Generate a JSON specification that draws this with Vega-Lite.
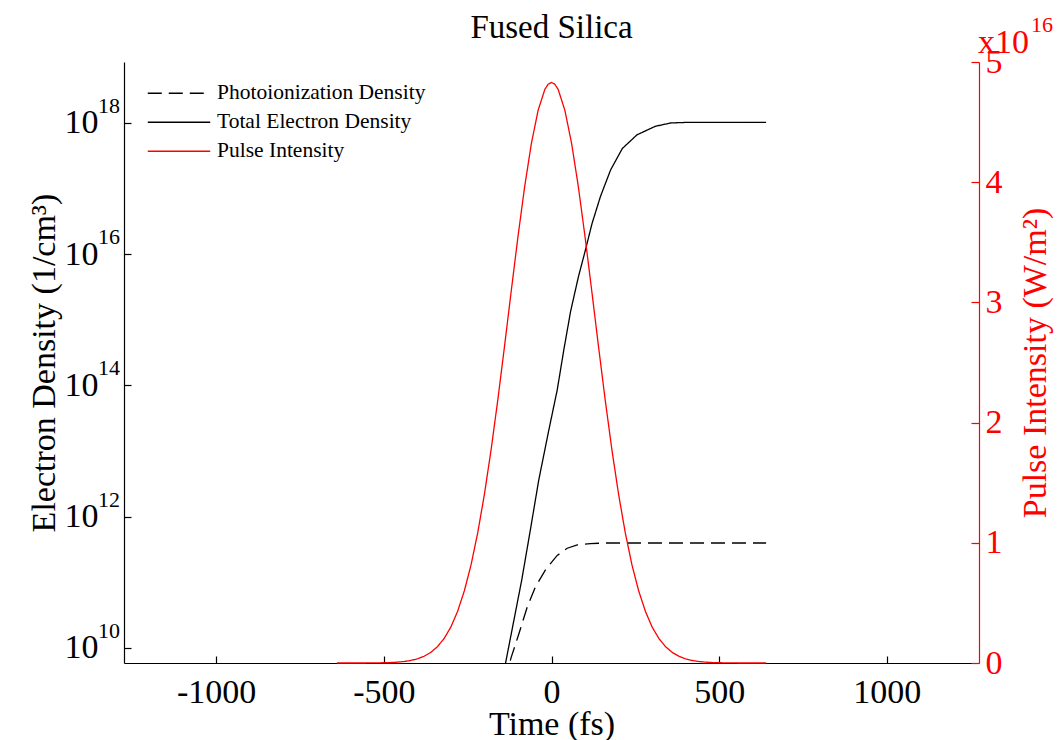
{
  "$schema": "https://vega.github.io/schema/vega-lite/v6.json",
  "width": 855,
  "height": 601,
  "autosize": {"type": "none"},
  "padding": {"left": 124, "top": 62, "right": 82, "bottom": 77},
  "background": "white",
  "config": {
    "font": "Liberation Serif",
    "view": {"stroke": null},
    "axis": {
      "grid": false,
      "labelFont": "Liberation Serif",
      "titleFont": "Liberation Serif",
      "labelColor": "black",
      "titleColor": "black",
      "domainColor": "black",
      "tickColor": "black",
      "titleFontWeight": "normal",
      "labelFontSize": 34,
      "titleFontSize": 34,
      "domainWidth": 1.2,
      "tickWidth": 1.2
    }
  },
  "title": {
    "text": "Fused Silica",
    "font": "Liberation Serif",
    "fontSize": 33,
    "fontWeight": "normal",
    "color": "black",
    "anchor": "middle",
    "frame": "group",
    "offset": -31
  },
  "datasets": {
    "density": [
      {"series": "Total Electron Density", "t": -160, "n": 1.45e9},
      {"series": "Total Electron Density", "t": -137, "n": 5.89e9},
      {"series": "Total Electron Density", "t": -113, "n": 2.51e10},
      {"series": "Total Electron Density", "t": -89, "n": 1.07e11},
      {"series": "Total Electron Density", "t": -63, "n": 6.31e11},
      {"series": "Total Electron Density", "t": -38, "n": 3.63e12},
      {"series": "Total Electron Density", "t": -8, "n": 2.09e13},
      {"series": "Total Electron Density", "t": 17, "n": 8.51e13},
      {"series": "Total Electron Density", "t": 37, "n": 3.55e14},
      {"series": "Total Electron Density", "t": 57, "n": 1.35e15},
      {"series": "Total Electron Density", "t": 80, "n": 4.47e15},
      {"series": "Total Electron Density", "t": 101, "n": 1.15e16},
      {"series": "Total Electron Density", "t": 121, "n": 2.95e16},
      {"series": "Total Electron Density", "t": 146, "n": 7.59e16},
      {"series": "Total Electron Density", "t": 176, "n": 1.91e17},
      {"series": "Total Electron Density", "t": 211, "n": 4.07e17},
      {"series": "Total Electron Density", "t": 255, "n": 6.61e17},
      {"series": "Total Electron Density", "t": 310, "n": 8.91e17},
      {"series": "Total Electron Density", "t": 355, "n": 1.0e18},
      {"series": "Total Electron Density", "t": 400, "n": 1.02e18},
      {"series": "Total Electron Density", "t": 640, "n": 1.02e18},
      {"series": "Photoionization Density", "t": -140, "n": 3.16e9},
      {"series": "Photoionization Density", "t": -120, "n": 7.24e9},
      {"series": "Photoionization Density", "t": -97, "n": 1.66e10},
      {"series": "Photoionization Density", "t": -72, "n": 4.27e10},
      {"series": "Photoionization Density", "t": -48, "n": 8.51e10},
      {"series": "Photoionization Density", "t": -18, "n": 1.55e11},
      {"series": "Photoionization Density", "t": 17, "n": 2.57e11},
      {"series": "Photoionization Density", "t": 47, "n": 3.31e11},
      {"series": "Photoionization Density", "t": 77, "n": 3.72e11},
      {"series": "Photoionization Density", "t": 116, "n": 3.89e11},
      {"series": "Photoionization Density", "t": 160, "n": 3.98e11},
      {"series": "Photoionization Density", "t": 640, "n": 3.98e11}
    ],
    "exponents": [
      {"t": -1275, "n": 1e10, "e": "10"},
      {"t": -1275, "n": 1e12, "e": "12"},
      {"t": -1275, "n": 1e14, "e": "14"},
      {"t": -1275, "n": 1e16, "e": "16"},
      {"t": -1275, "n": 1e18, "e": "18"}
    ],
    "pulse": [
      {"series": "Pulse Intensity", "t": -640, "I": 0},
      {"series": "Pulse Intensity", "t": -580, "I": 0},
      {"series": "Pulse Intensity", "t": -540, "I": 3e12},
      {"series": "Pulse Intensity", "t": -500, "I": 2.2e13},
      {"series": "Pulse Intensity", "t": -480, "I": 3.9e13},
      {"series": "Pulse Intensity", "t": -460, "I": 7.0e13},
      {"series": "Pulse Intensity", "t": -440, "I": 1.23e14},
      {"series": "Pulse Intensity", "t": -420, "I": 2.09e14},
      {"series": "Pulse Intensity", "t": -400, "I": 3.46e14},
      {"series": "Pulse Intensity", "t": -380, "I": 5.6e14},
      {"series": "Pulse Intensity", "t": -360, "I": 8.85e14},
      {"series": "Pulse Intensity", "t": -340, "I": 1.36e15},
      {"series": "Pulse Intensity", "t": -320, "I": 2.05e15},
      {"series": "Pulse Intensity", "t": -300, "I": 3.0e15},
      {"series": "Pulse Intensity", "t": -280, "I": 4.3e15},
      {"series": "Pulse Intensity", "t": -260, "I": 6.0e15},
      {"series": "Pulse Intensity", "t": -240, "I": 8.16e15},
      {"series": "Pulse Intensity", "t": -220, "I": 1.084e16},
      {"series": "Pulse Intensity", "t": -200, "I": 1.405e16},
      {"series": "Pulse Intensity", "t": -180, "I": 1.777e16},
      {"series": "Pulse Intensity", "t": -160, "I": 2.192e16},
      {"series": "Pulse Intensity", "t": -140, "I": 2.638e16},
      {"series": "Pulse Intensity", "t": -120, "I": 3.097e16},
      {"series": "Pulse Intensity", "t": -100, "I": 3.547e16},
      {"series": "Pulse Intensity", "t": -80, "I": 3.964e16},
      {"series": "Pulse Intensity", "t": -60, "I": 4.322e16},
      {"series": "Pulse Intensity", "t": -40, "I": 4.597e16},
      {"series": "Pulse Intensity", "t": -20, "I": 4.771e16},
      {"series": "Pulse Intensity", "t": -10, "I": 4.815e16},
      {"series": "Pulse Intensity", "t": 0, "I": 4.83e16},
      {"series": "Pulse Intensity", "t": 10, "I": 4.815e16},
      {"series": "Pulse Intensity", "t": 20, "I": 4.771e16},
      {"series": "Pulse Intensity", "t": 40, "I": 4.597e16},
      {"series": "Pulse Intensity", "t": 60, "I": 4.322e16},
      {"series": "Pulse Intensity", "t": 80, "I": 3.964e16},
      {"series": "Pulse Intensity", "t": 100, "I": 3.547e16},
      {"series": "Pulse Intensity", "t": 120, "I": 3.097e16},
      {"series": "Pulse Intensity", "t": 140, "I": 2.638e16},
      {"series": "Pulse Intensity", "t": 160, "I": 2.192e16},
      {"series": "Pulse Intensity", "t": 180, "I": 1.777e16},
      {"series": "Pulse Intensity", "t": 200, "I": 1.405e16},
      {"series": "Pulse Intensity", "t": 220, "I": 1.084e16},
      {"series": "Pulse Intensity", "t": 240, "I": 8.16e15},
      {"series": "Pulse Intensity", "t": 260, "I": 6.0e15},
      {"series": "Pulse Intensity", "t": 280, "I": 4.3e15},
      {"series": "Pulse Intensity", "t": 300, "I": 3.0e15},
      {"series": "Pulse Intensity", "t": 320, "I": 2.05e15},
      {"series": "Pulse Intensity", "t": 340, "I": 1.36e15},
      {"series": "Pulse Intensity", "t": 360, "I": 8.85e14},
      {"series": "Pulse Intensity", "t": 380, "I": 5.6e14},
      {"series": "Pulse Intensity", "t": 400, "I": 3.46e14},
      {"series": "Pulse Intensity", "t": 420, "I": 2.09e14},
      {"series": "Pulse Intensity", "t": 440, "I": 1.23e14},
      {"series": "Pulse Intensity", "t": 460, "I": 7.0e13},
      {"series": "Pulse Intensity", "t": 480, "I": 3.9e13},
      {"series": "Pulse Intensity", "t": 500, "I": 2.2e13},
      {"series": "Pulse Intensity", "t": 540, "I": 3e12},
      {"series": "Pulse Intensity", "t": 580, "I": 0},
      {"series": "Pulse Intensity", "t": 640, "I": 0}
    ],
    "note": [
      {"t": 1275, "I": 5e16, "base": "x10", "sup": "16"}
    ]
  },
  "encoding": {
    "x": {
      "field": "t",
      "type": "quantitative",
      "scale": {"domain": [-1275, 1275], "nice": false, "zero": false},
      "axis": {
        "title": "Time (fs)",
        "values": [-1000, -500, 0, 500, 1000],
        "labelExpr": "'' + datum.value",
        "tickSize": -7,
        "labelPadding": 19,
        "titlePadding": -2,
        "labelFlush": false,
        "labelOverlap": false
      }
    }
  },
  "layer": [
    {
      "encoding": {
        "y": {
          "field": "n",
          "type": "quantitative",
          "scale": {"type": "log", "domain": [5.9e9, 8.5e18], "nice": false},
          "axis": {
            "title": "Electron Density (1/cm³)",
            "values": [1e10, 1e12, 1e14, 1e16, 1e18],
            "labelExpr": "'10'",
            "tickSize": -7,
            "labelPadding": 33,
            "titlePadding": 3,
            "labelFlush": false,
            "labelOverlap": false
          }
        }
      },
      "layer": [
        {
          "data": {"name": "density"},
          "mark": {"type": "line", "clip": true, "strokeWidth": 1.3},
          "encoding": {
            "color": {
              "field": "series",
              "type": "nominal",
              "scale": {
                "domain": ["Photoionization Density", "Total Electron Density", "Pulse Intensity"],
                "range": ["black", "black", "red"]
              },
              "legend": {
                "title": null,
                "orient": "none",
                "legendX": 23,
                "legendY": 17,
                "symbolType": "stroke",
                "symbolSize": 3900,
                "symbolStrokeWidth": 1.3,
                "clipHeight": 28.5,
                "labelFont": "Liberation Serif",
                "labelFontSize": 21.5,
                "labelColor": "black",
                "labelOffset": 6,
                "rowPadding": 0,
                "labelLimit": 400
              }
            },
            "strokeDash": {
              "field": "series",
              "type": "nominal",
              "scale": {
                "domain": ["Photoionization Density", "Total Electron Density", "Pulse Intensity"],
                "range": [[14, 7], [1, 0], [1, 0]]
              },
              "legend": {
                "title": null,
                "orient": "none",
                "legendX": 23,
                "legendY": 17,
                "symbolType": "stroke",
                "symbolSize": 3900,
                "symbolStrokeWidth": 1.3,
                "clipHeight": 28.5,
                "labelFont": "Liberation Serif",
                "labelFontSize": 21.5,
                "labelColor": "black",
                "labelOffset": 6,
                "rowPadding": 0,
                "labelLimit": 400
              }
            }
          }
        },
        {
          "data": {"name": "exponents"},
          "mark": {"type": "text", "align": "right", "baseline": "alphabetic", "dx": -4, "dy": -10, "font": "Liberation Serif", "fontSize": 22, "color": "black"},
          "encoding": {
            "text": {"field": "e"}
          }
        }
      ]
    },
    {
      "encoding": {
        "y": {
          "field": "I",
          "type": "quantitative",
          "scale": {"domain": [0, 5e16], "nice": false},
          "axis": {
            "orient": "right",
            "title": "Pulse Intensity (W/m²)",
            "values": [0, 1e16, 2e16, 3e16, 4e16, 5e16],
            "labelExpr": "format(datum.value / 1e16, 'd')",
            "tickSize": -8,
            "labelPadding": 14,
            "titlePadding": 16,
            "titleAngle": 270,
            "titleBaseline": "top",
            "domainColor": "red",
            "tickColor": "red",
            "labelColor": "red",
            "titleColor": "red",
            "labelFlush": false,
            "labelOverlap": false
          }
        }
      },
      "layer": [
        {
          "data": {"name": "pulse"},
          "mark": {"type": "line", "strokeWidth": 1.3},
          "encoding": {
            "color": {"field": "series", "type": "nominal"},
            "strokeDash": {"field": "series", "type": "nominal"}
          }
        },
        {
          "data": {"name": "note"},
          "mark": {"type": "text", "align": "left", "baseline": "alphabetic", "dx": -1, "dy": -9, "font": "Liberation Serif", "fontSize": 34, "color": "red"},
          "encoding": {
            "text": {"field": "base"}
          }
        },
        {
          "data": {"name": "note"},
          "mark": {"type": "text", "align": "left", "baseline": "alphabetic", "dx": 52, "dy": -30, "font": "Liberation Serif", "fontSize": 22, "color": "red"},
          "encoding": {
            "text": {"field": "sup"}
          }
        }
      ]
    }
  ],
  "resolve": {"scale": {"y": "independent"}}
}
